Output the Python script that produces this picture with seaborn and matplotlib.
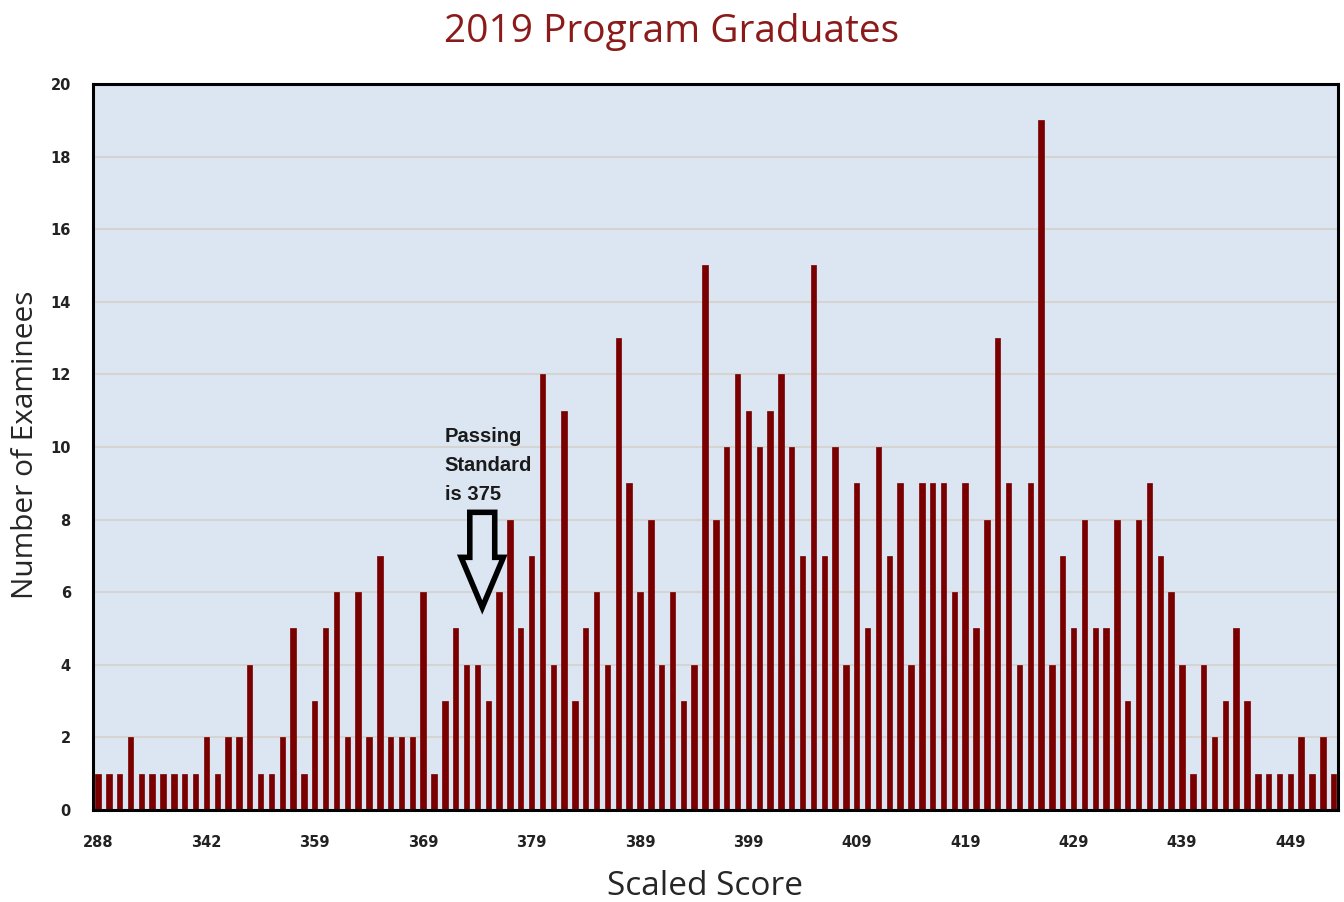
import numpy as np
import pandas as pd
import matplotlib.pyplot as plt
import seaborn as sns
from matplotlib.patches import FancyArrow

# number of examinees per scaled score bar, left to right
counts = [1, 1, 1, 2, 1, 1, 1, 1, 1, 1,
          2, 1, 2, 2, 4, 1, 1, 2, 5, 1,
          3, 5, 6, 2, 6, 2, 7, 2, 2, 2,
          6, 1, 3, 5, 4, 4, 3, 6, 8, 5,
          7, 12, 4, 11, 3, 5, 6, 4, 13, 9,
          6, 8, 4, 6, 3, 4, 15, 8, 10, 12,
          11, 10, 11, 12, 10, 7, 15, 7, 10, 4,
          9, 5, 10, 7, 9, 4, 9, 9, 9, 6,
          9, 5, 8, 13, 9, 4, 9, 19, 4, 7,
          5, 8, 5, 5, 8, 3, 8, 9, 7, 6,
          4, 1, 4, 2, 3, 5, 3, 1, 1, 1,
          1, 2, 1, 2, 1]
tick_labels = ['288', '342', '359', '369', '379', '389', '399',
               '409', '419', '429', '439', '449']
y_ticks = list(range(0, 21, 2))

title = '2019 Program Graduates'
xlabel = 'Scaled Score'
ylabel = 'Number of Examinees'
note = 'Passing\nStandard\nis 375'

bar_color = '#7a0000'
bg_color = '#dce6f2'
title_color = '#8b1a1a'

df = pd.DataFrame({'bar': np.arange(len(counts)), 'count': counts})

sns.set_style('white')
plt.rcParams['font.family'] = ['DejaVu Sans']

fig = plt.figure(figsize=(13.44, 9.02), dpi=100)
ax = fig.add_axes([0.0692, 0.102, 0.9263, 0.8049])
ax.set_facecolor(bg_color)

sns.barplot(data=df, x='bar', y='count', color=bar_color, width=0.5,
            saturation=1, edgecolor=bar_color, linewidth=0.5, ax=ax)

ax.set_xlim(-0.46, len(counts) - 0.61)
ax.set_ylim(0, 20)
ax.set_yticks(y_ticks)
ax.set_yticklabels([str(t) for t in y_ticks], fontsize=10.5, fontweight='bold', color='#222222')
ax.set_xticks(np.arange(0, len(counts), 10)[:len(tick_labels)])
ax.set_xticklabels(tick_labels, fontsize=10.5, fontweight='bold', color='#222222')
ax.tick_params(axis='both', length=0)
ax.tick_params(axis='y', pad=16)
ax.tick_params(axis='x', pad=18)

ax.yaxis.grid(True, color='#d6d3d3', linewidth=1.5)
ax.xaxis.grid(False)
ax.set_axisbelow(True)

for s in ax.spines.values():
    s.set_visible(True)
    s.set_color('black')
    s.set_linewidth(2.2)

ax.set_xlabel(xlabel, fontsize=24, family='Open Sans', va='center')
ax.xaxis.set_label_coords(0.4916, -0.106)
ax.set_ylabel(ylabel, fontsize=21.5, family='Open Sans', va='center')
ax.yaxis.set_label_coords(-0.0546, 0.503)
fig.suptitle(title, x=0.5, y=0.965, va='center', fontsize=28,
             family='Open Sans', color=title_color)

# passing standard note and hollow arrow
ax.text(32.0, 10.55, note, fontsize=14.5, fontweight='bold', family='Liberation Sans',
        va='top', ha='left', linespacing=1.65, color='#1a1a1a')
ax.add_patch(FancyArrow(35.45, 8.2, 0, -2.62, width=2.3, head_width=3.9,
                        head_length=1.38, length_includes_head=True,
                        facecolor=bg_color, edgecolor='black', linewidth=4,
                        joinstyle='miter', zorder=5))

plt.savefig('out.png', dpi=100)
